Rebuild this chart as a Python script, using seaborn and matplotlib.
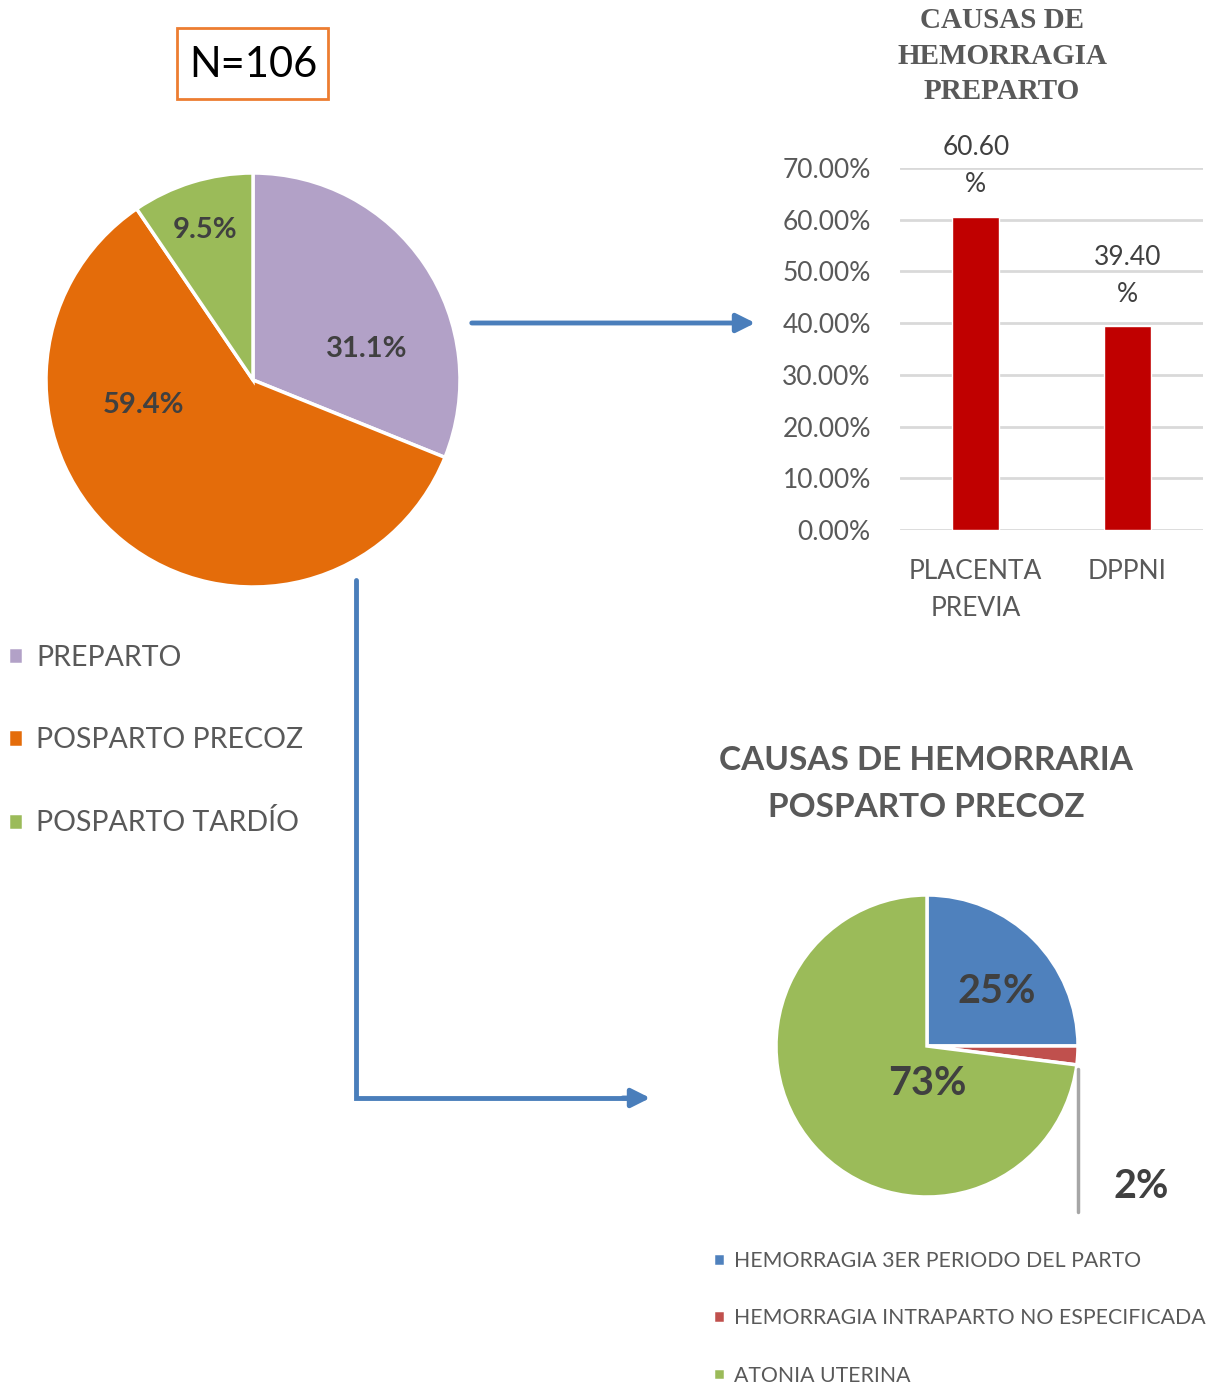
import matplotlib
matplotlib.use("Agg")
import matplotlib.pyplot as plt
import seaborn as sns
import numpy as np
import pandas as pd
from matplotlib.ticker import PercentFormatter
from matplotlib.patches import Rectangle, FancyArrowPatch
from matplotlib.lines import Line2D

# ---------------- data ----------------
main_labels = ["PREPARTO", "POSPARTO PRECOZ", "POSPARTO TARDÍO"]
main_values = [31.1, 59.4, 9.5]
main_colors = ["#B2A1C7", "#E46C0A", "#9BBB59"]

bar_categories = ["PLACENTA\nPREVIA", "DPPNI"]
bar_values = [0.606, 0.394]
bar_value_labels = ["60.60\n%", "39.40\n%"]

post_labels = ["HEMORRAGIA 3ER PERIODO DEL PARTO",
               "HEMORRAGIA INTRAPARTO NO ESPECIFICADA",
               "ATONIA UTERINA"]
post_values = [25, 2, 73]
post_colors = ["#4F81BD", "#C0504D", "#9BBB59"]

N_total = 106

# ---------------- style ----------------
sns.set_theme(style="white")
plt.rcParams['font.family'] = ['Lato', 'DejaVu Sans']

W, H = 1214, 1385
fig = plt.figure(figsize=(W / 100, H / 100), dpi=100)

def fr(left, top, right, bottom):
    return [left / W, 1 - bottom / H, (right - left) / W, (bottom - top) / H]

GREY = "#595959"
DARK = "#404040"

# ---------------- overlay (box + arrows) ----------------
ov = fig.add_axes([0, 0, 1, 1], zorder=-1)
ov.set_xlim(0, W)
ov.set_ylim(H, 0)
ov.axis("off")
ov.add_patch(Rectangle((177, 28), 151, 71, facecolor="white",
                       edgecolor="#ED7D31", linewidth=2))
ov.text(253, 65, f"N={N_total}", ha="center", va="center",
        fontsize=30, color="black")
ARROW = "#4A7EBB"
ov.add_patch(FancyArrowPatch((469, 323), (758, 323), arrowstyle="-|>",
                             mutation_scale=28, color=ARROW, linewidth=3.5))
ov.plot([356, 356, 640], [580, 1098, 1098], color=ARROW, linewidth=3.5,
        solid_joinstyle="miter")
ov.add_patch(FancyArrowPatch((620, 1098), (653, 1098), arrowstyle="-|>",
                             mutation_scale=28, color=ARROW, linewidth=3.5))

# ---------------- main pie ----------------
ax_pie = fig.add_axes(fr(46, 173, 460, 587))
wedges, _ = ax_pie.pie(main_values, colors=main_colors, startangle=90,
                       counterclock=False, radius=1,
                       wedgeprops=dict(edgecolor="white", linewidth=2.5))
ax_pie.set_xlim(-1, 1)
ax_pie.set_ylim(-1, 1)
ax_pie.set_aspect("equal")
main_label_pos = [(0.55, 0.15), (-0.53, -0.12), (-0.23, 0.725)]
for v, (x, y) in zip(main_values, main_label_pos):
    ax_pie.text(x, y, f"{v:.1f}%", ha="center", va="center",
                fontsize=21, fontweight="bold", color=DARK)

fig.legend(wedges, main_labels, loc="upper left",
           bbox_to_anchor=(-18 / W, 1 - 619 / H), frameon=False,
           fontsize=20.5, labelcolor=GREY, handlelength=0.55,
           handleheight=0.55, handletextpad=0.45, labelspacing=1.98)

# ---------------- bar chart ----------------
ax_bar = fig.add_axes(fr(900, 168, 1203, 530))
df_bar = pd.DataFrame({"cause": bar_categories, "value": bar_values})
sns.barplot(data=df_bar, x="cause", y="value", color="#C00000",
            width=0.31, saturation=1, ax=ax_bar)
ax_bar.set_ylim(0, 0.70)
ax_bar.set_xlim(-0.5, 1.5)
ax_bar.set_yticks(np.arange(0, 0.701, 0.1))
ax_bar.yaxis.set_major_formatter(PercentFormatter(1.0, decimals=2))
ax_bar.grid(axis="y", color="#D9D9D9", linewidth=2)
ax_bar.set_axisbelow(True)
for s in ax_bar.spines.values():
    s.set_visible(False)
ax_bar.tick_params(axis="y", length=0, pad=21, labelsize=19, labelcolor=GREY)
ax_bar.tick_params(axis="x", length=0, pad=21, labelsize=19, labelcolor=GREY)
for lab in ax_bar.get_xticklabels():
    lab.set_linespacing(1.6)
ax_bar.set_xlabel("")
ax_bar.set_ylabel("")
for i, (v, t) in enumerate(zip(bar_values, bar_value_labels)):
    ax_bar.annotate(t, xy=(i, v), xytext=(0, 14), textcoords="offset points",
                    ha="center", va="bottom", fontsize=19, color=DARK,
                    linespacing=1.6)

fig.text(1002 / W, 1 - 56 / H, "CAUSAS DE\nHEMORRAGIA\nPREPARTO",
         ha="center", va="center", fontsize=21, fontweight="bold",
         color=GREY, family=["Liberation Serif", "DejaVu Serif"],
         linespacing=1.4)

# ---------------- second pie ----------------
ax_p2 = fig.add_axes(fr(776, 895, 1078, 1197))
w2, _ = ax_p2.pie(post_values, colors=post_colors, startangle=90,
                  counterclock=False, radius=1,
                  wedgeprops=dict(edgecolor="white", linewidth=2.5))
ax_p2.set_xlim(-1, 1)
ax_p2.set_ylim(-1, 1)
ax_p2.set_aspect("equal")
post_label_pos = [(0.46, 0.36), (1.42, -0.93), (0.0, -0.25)]
for v, (x, y) in zip(post_values, post_label_pos):
    ax_p2.text(x, y, f"{v}%", ha="center", va="center", fontsize=28.5,
               fontweight="bold", color=DARK, clip_on=False)
ax_p2.add_line(Line2D([1.0, 1.0], [-0.15, -1.1], color="#A6A6A6",
                      linewidth=2.5, clip_on=False))

fig.text(926 / W, 1 - 784 / H, "CAUSAS DE HEMORRARIA\nPOSPARTO PRECOZ",
         ha="center", va="center", fontsize=24, fontweight="bold",
         color=GREY, linespacing=1.75)

fig.legend(w2, post_labels, loc="upper left",
           bbox_to_anchor=(694 / W, 1 - 1232 / H), frameon=False,
           fontsize=15.3, labelcolor=GREY, handlelength=0.55,
           handleheight=0.55, handletextpad=0.45, labelspacing=1.75)

fig.savefig("out.png", dpi=100)
